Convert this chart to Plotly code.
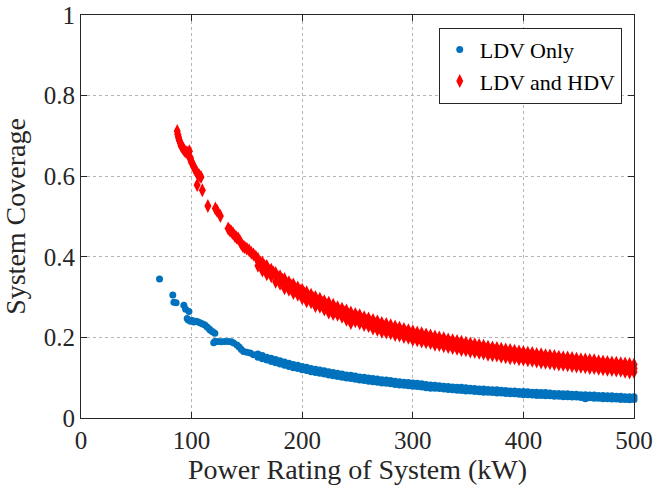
import plotly.graph_objects as go

# ---------------- data ----------------
# LDV Only: sparse low-power points
ldv_x_sparse = [71, 83, 84, 86, 93, 94.6, 97.6, 96, 97, 99, 100.6, 102, 104, 106, 108, 110,
                112, 114, 116, 117, 119, 121, 120, 121, 124, 127, 130, 133, 136, 138, 141,
                143, 145, 147, 150, 153, 156]
ldv_y_sparse = [0.345, 0.305, 0.287, 0.286, 0.28, 0.27, 0.264, 0.247, 0.243, 0.24, 0.242,
                0.238, 0.24, 0.238, 0.236, 0.233, 0.231, 0.226, 0.221, 0.218, 0.214, 0.21,
                0.187, 0.19, 0.19, 0.189, 0.19, 0.19, 0.189, 0.186, 0.181, 0.176, 0.17,
                0.165, 0.163, 0.161, 0.157]

# LDV and HDV: sparse low-power points
hdv_x_sparse = [87, 87.5, 88, 88.5, 89, 90, 90.5, 91.5, 92.5, 93.5, 95, 96.5, 98, 97.5, 99,
                99.5, 100.5, 101.5, 102.5, 103.5, 104.5, 105.5, 107, 108.5, 105, 109.7,
                114.7, 121.5, 123, 126, 133, 134.5, 136, 137.5, 139, 140.5, 142, 143.5,
                145, 146.5, 148, 150, 152, 154, 156, 158]
hdv_y_sparse = [0.712, 0.704, 0.698, 0.692, 0.688, 0.682, 0.676, 0.672, 0.668, 0.664, 0.66,
                0.658, 0.662, 0.65, 0.645, 0.638, 0.632, 0.626, 0.621, 0.615, 0.61, 0.606,
                0.602, 0.598, 0.578, 0.565, 0.526, 0.52, 0.514, 0.501, 0.47, 0.466, 0.462,
                0.458, 0.452, 0.448, 0.446, 0.44, 0.432, 0.426, 0.424, 0.42, 0.416, 0.41,
                0.406, 0.4]

# dense region power ratings (kW)
band_x = [160, 164, 168, 172, 176, 180, 184, 188, 192, 196,
          200, 204, 208, 212, 216, 220, 224, 228, 232, 236,
          240, 244, 248, 252, 256, 260, 264, 268, 272, 276,
          280, 284, 288, 292, 296, 300, 304, 308, 312, 316,
          320, 324, 328, 332, 336, 340, 344, 348, 352, 356,
          360, 364, 368, 372, 376, 380, 384, 388, 392, 396,
          400, 404, 408, 412, 416, 420, 424, 428, 432, 436,
          440, 444, 448, 452, 456, 460, 464, 468, 472, 476,
          480, 484, 488, 492, 496, 500]
band_x_mid = [162, 166, 170, 174, 178, 182, 186, 190, 194, 198,
              202, 206, 210, 214, 218, 222, 226, 230, 234, 238,
              242, 246, 250, 254, 258, 262, 266, 270, 274, 278,
              282, 286, 290, 294, 298, 302, 306, 310, 314, 318,
              322, 326, 330, 334, 338, 342, 346, 350, 354, 358,
              362, 366, 370, 374, 378, 382, 386, 390, 394, 398,
              402, 406, 410, 414, 418, 422, 426, 430, 434, 438,
              442, 446, 450, 454, 458, 462, 466, 470, 474, 478,
              482, 486, 490, 494, 498, 500]

ldv_y_upper = [.159, .155, .151, .148, .145, .142, .139, .136, .133, .131,
               .128, .126, .123, .121, .119, .117, .115, .113, .111, .109,
               .107, .106, .104, .102, .101, .099, .098, .097, .095, .094,
               .093, .091, .090, .089, .088, .087, .086, .085, .083, .082,
               .081, .080, .079, .078, .077, .076, .076, .075, .074, .073,
               .072, .072, .071, .070, .070, .069, .068, .067, .067, .066,
               .066, .065, .064, .064, .063, .063, .062, .061, .061, .060,
               .060, .059, .059, .058, .058, .057, .057, .056, .056, .055,
               .055, .054, .054, .053, .053, .053]
ldv_y_lower = [.151, .147, .144, .140, .137, .134, .131, .128, .125, .123,
               .120, .118, .115, .113, .111, .109, .107, .105, .103, .101,
               .099, .098, .096, .094, .093, .091, .090, .089, .087, .086,
               .085, .083, .082, .081, .080, .079, .078, .077, .075, .074,
               .074, .073, .072, .071, .070, .069, .068, .067, .067, .066,
               .065, .064, .064, .063, .062, .062, .061, .060, .060, .059,
               .058, .058, .057, .056, .056, .055, .055, .054, .054, .053,
               .053, .052, .052, .051, .048, .050, .049, .049, .048, .048,
               .047, .047, .046, .046, .045, .046]

hdv_y_upper = [.395, .386, .377, .368, .360, .352, .345, .337, .331, .324,
               .318, .312, .306, .300, .296, .290, .286, .281, .275, .271,
               .267, .262, .258, .255, .250, .247, .243, .240, .236, .233,
               .230, .227, .224, .221, .218, .215, .212, .210, .207, .205,
               .202, .200, .198, .195, .193, .191, .189, .187, .185, .183,
               .181, .179, .177, .175, .174, .172, .170, .169, .167, .165,
               .164, .162, .161, .159, .158, .156, .155, .154, .152, .151,
               .150, .149, .147, .146, .145, .144, .143, .141, .140, .139,
               .138, .137, .136, .135, .134, .133]
hdv_y_mid = [.386, .377, .366, .361, .350, .343, .334, .328, .320, .316,
             .309, .300, .297, .289, .286, .280, .273, .270, .265, .262,
             .256, .250, .249, .244, .241, .237, .233, .229, .226, .222,
             .219, .217, .214, .211, .208, .205, .202, .200, .197, .195,
             .192, .190, .188, .186, .183, .181, .179, .177, .175, .173,
             .171, .170, .167, .166, .164, .162, .160, .159, .157, .156,
             .154, .153, .151, .150, .148, .147, .145, .144, .143, .141,
             .140, .139, .138, .136, .135, .134, .133, .132, .131, .130,
             .129, .128, .126, .125, .124, .123]
hdv_y_lower = [.378, .366, .357, .352, .338, .333, .322, .318, .310, .306,
               .297, .290, .287, .278, .276, .269, .262, .258, .256, .251,
               .244, .236, .240, .235, .231, .228, .222, .219, .214, .212,
               .210, .206, .205, .201, .199, .194, .193, .190, .188, .186,
               .182, .181, .178, .176, .174, .172, .169, .168, .165, .164,
               .162, .160, .157, .156, .155, .152, .151, .148, .148, .146,
               .145, .143, .142, .140, .138, .137, .136, .134, .133, .132,
               .131, .129, .128, .127, .126, .124, .124, .122, .121, .120,
               .119, .118, .117, .115, .113, .114]

x_ticks = [0, 100, 200, 300, 400, 500]
y_ticks = [0, 0.2, 0.4, 0.6, 0.8, 1]
y_tick_labels = ["0", "0.2", "0.4", "0.6", "0.8", "1"]

# ---------------- figure ----------------
FONT = "Liberation Serif, Times New Roman, serif"
AX = "#262626"

ldv_x = ldv_x_sparse + band_x + band_x
ldv_y = ldv_y_sparse + ldv_y_upper + ldv_y_lower
hdv_x = hdv_x_sparse + band_x + band_x_mid + band_x
hdv_y = hdv_y_sparse + hdv_y_upper + hdv_y_mid + hdv_y_lower

fig = go.Figure()
fig.add_trace(go.Scatter(
    x=ldv_x, y=ldv_y, mode="markers", name="LDV Only", cliponaxis=False,
    marker=dict(symbol="circle", size=7, color="#0072BD", line=dict(width=0)),
))
fig.add_trace(go.Scatter(
    x=hdv_x, y=hdv_y, mode="markers", name="LDV and HDV", cliponaxis=False,
    marker=dict(symbol="diamond-tall", size=10, color="#FF0000", line=dict(width=0)),
))

axis_common = dict(
    showline=True, linecolor=AX, linewidth=1, mirror="ticks",
    ticks="inside", ticklen=6, tickcolor=AX, tickwidth=1,
    showgrid=True, gridcolor="#b5b5b5", gridwidth=1, griddash="dot",
    zeroline=False, automargin=False,
    tickfont=dict(family=FONT, size=25, color=AX),
)

fig.update_layout(
    width=654, height=489,
    margin=dict(l=81, r=20, t=15, b=71),
    paper_bgcolor="white", plot_bgcolor="white",
    font=dict(family=FONT, color=AX),
    xaxis=dict(range=[0, 500], tickvals=x_ticks,
               title=dict(text="Power Rating of System (kW)",
                          font=dict(family=FONT, size=28, color=AX), standoff=6),
               **axis_common),
    yaxis=dict(range=[0, 1], tickvals=y_ticks, ticktext=y_tick_labels,
               title=dict(text="System Coverage",
                          font=dict(family=FONT, size=28, color=AX), standoff=10),
               **axis_common),
    legend=dict(x=0.9778, xanchor="right", y=0.9685, yanchor="top",
                bgcolor="white", bordercolor=AX, borderwidth=1,
                font=dict(family=FONT, size=22, color="black"),
                itemwidth=30, tracegroupgap=0),
    showlegend=True,
)

fig.write_html("out.html")
